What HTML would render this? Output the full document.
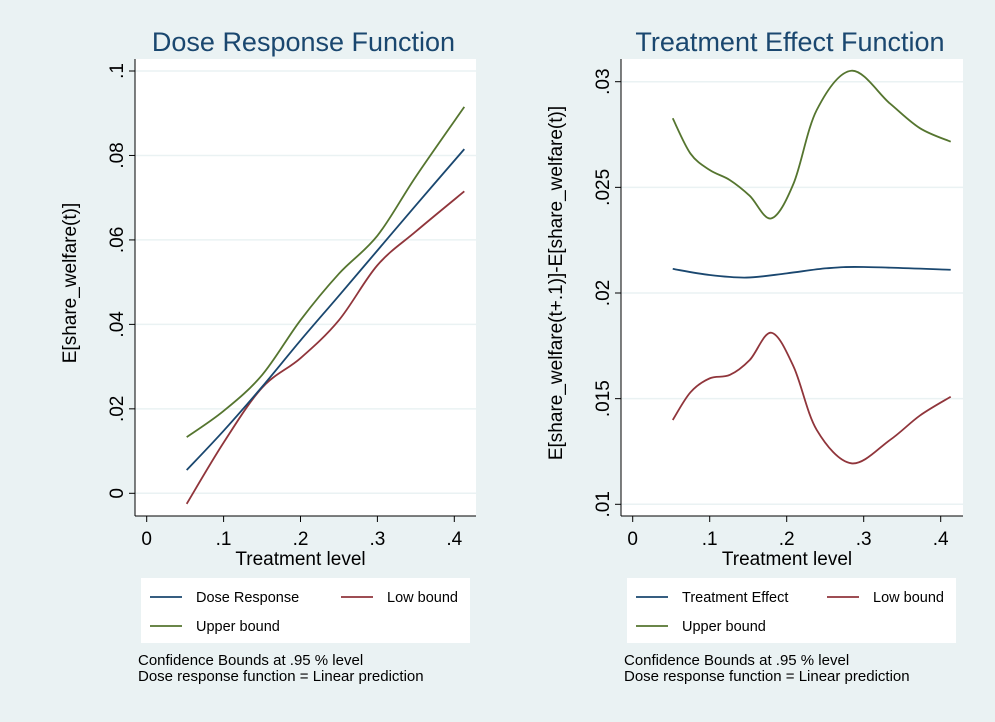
<!DOCTYPE html>
<html><head><meta charset="utf-8">
<style>
body{margin:0;background:#eaf2f3;}
svg{display:block;font-family:"Liberation Sans",Arial,sans-serif;}
</style></head>
<body>
<svg id="chart" width="995" height="722" viewBox="0 0 995 722">
<rect x="0" y="0" width="995" height="722" fill="#eaf2f3"/>
</svg>
<script>
const doseX = [0.052, 0.1, 0.15, 0.2, 0.25, 0.3, 0.35, 0.413];
const doseResponse = [0.0055, 0.0148, 0.0252, 0.0362, 0.0468, 0.0575, 0.0682, 0.0815];
const doseUpper = [0.0133, 0.0195, 0.028, 0.041, 0.052, 0.061, 0.075, 0.0915];
const doseLow = [-0.0025, 0.012, 0.025, 0.032, 0.041, 0.054, 0.062, 0.0715];
const doseYTicks = [0, 0.02, 0.04, 0.06, 0.08, 0.1];
const doseYLabels = ["0", ".02", ".04", ".06", ".08", ".1"];

const teX = [0.052, 0.075, 0.1, 0.126, 0.152, 0.18, 0.209, 0.239, 0.284, 0.334, 0.373, 0.413];
const teUpper = [0.02827, 0.0266, 0.02582, 0.02535, 0.0246, 0.02353, 0.02519, 0.02866, 0.03052, 0.02897, 0.0278, 0.02716];
const teLow = [0.01399, 0.0153, 0.01596, 0.01612, 0.01683, 0.01812, 0.01651, 0.01352, 0.01194, 0.01304, 0.0142, 0.01509];
const teEffectX = [0.052, 0.1, 0.148, 0.2, 0.252, 0.3, 0.413];
const teEffect = [0.02114, 0.02085, 0.02073, 0.02093, 0.02117, 0.02123, 0.0211];
const teYTicks = [0.01, 0.015, 0.02, 0.025, 0.03];
const teYLabels = [".01", ".015", ".02", ".025", ".03"];

const xTicks = [0, 0.1, 0.2, 0.3, 0.4];
const xLabels = ["0", ".1", ".2", ".3", ".4"];

const NS = "http://www.w3.org/2000/svg";
const svg = document.getElementById("chart");
function mk(tag, attrs, parent) {
  const e = document.createElementNS(NS, tag);
  for (const k in attrs) e.setAttribute(k, attrs[k]);
  (parent || svg).appendChild(e);
  return e;
}
function txt(s, attrs, parent) { const t = mk("text", attrs, parent); t.textContent = s; return t; }

function smoothPath(pts) {
  let d = "M" + pts[0][0].toFixed(2) + "," + pts[0][1].toFixed(2);
  for (let i = 0; i < pts.length - 1; i++) {
    const p0 = pts[Math.max(0, i - 1)], p1 = pts[i], p2 = pts[i + 1], p3 = pts[Math.min(pts.length - 1, i + 2)];
    const c1x = p1[0] + (p2[0] - p0[0]) / 6, c1y = p1[1] + (p2[1] - p0[1]) / 6;
    const c2x = p2[0] - (p3[0] - p1[0]) / 6, c2y = p2[1] - (p3[1] - p1[1]) / 6;
    d += " C" + c1x.toFixed(2) + "," + c1y.toFixed(2) + " " + c2x.toFixed(2) + "," + c2y.toFixed(2) + " " + p2[0].toFixed(2) + "," + p2[1].toFixed(2);
  }
  return d;
}

function panel(cfg) {
  const g = mk("g", {});
  
  
  const xs = v => cfg.x0 + (v - 0) / 0.4 * (cfg.x4 - cfg.x0);
  const ys = v => cfg.yA + (v - cfg.vA) / (cfg.vB - cfg.vA) * (cfg.yB - cfg.yA);
  const title = txt(cfg.title, {x: (cfg.L + cfg.R) / 2 - 2, y: 51, "text-anchor": "middle", "font-size": 27, fill: "#1a476f"}, g);
  
  
  const pa = mk("rect", {x: cfg.L, y: 59, width: cfg.R - cfg.L, height: 457, fill: "#ffffff"}, g);
  
  
  cfg.yTicks.forEach((v, i) => {
    const y = ys(v);
    const gl = mk("line", {x1: cfg.L, x2: cfg.R, y1: y, y2: y, stroke: "#eaf2f3", "stroke-width": 1.5}, g);
    
    
    mk("line", {x1: cfg.L - 6, x2: cfg.L, y1: y, y2: y, stroke: "#000", "stroke-width": 1}, g);
    const t = txt(cfg.yLabels[i], {x: 0, y: 0, "text-anchor": "middle", "font-size": 19, fill: "#000", transform: "translate(" + (cfg.L - 12) + "," + y + ") rotate(-90)"}, g);
    
    
  });
  xTicks.forEach((v, i) => {
    const x = xs(v);
    mk("line", {x1: x, x2: x, y1: 516, y2: 522, stroke: "#000", "stroke-width": 1}, g);
    const t = txt(xLabels[i], {x: x, y: 545, "text-anchor": "middle", "font-size": 19, fill: "#000"}, g);
    
    
  });
  mk("line", {x1: cfg.L, x2: cfg.L, y1: 59, y2: 516, stroke: "#000", "stroke-width": 1}, g);
  mk("line", {x1: cfg.L, x2: cfg.R, y1: 516, y2: 516, stroke: "#000", "stroke-width": 1}, g);
  const xt = txt("Treatment level", {x: (cfg.L + cfg.R) / 2 - 5, y: 565, "text-anchor": "middle", "font-size": 19, fill: "#000"}, g);
  
  
  const yt = txt(cfg.yTitle, {x: 0, y: 0, "text-anchor": "middle", "font-size": 19, fill: "#000", transform: "translate(" + cfg.yTitleX + ",283) rotate(-90)"}, g);
  
  
  cfg.series.forEach(s => {
    const pts = s.xv.map((xv, i) => [xs(xv), ys(s.yv[i])]);
    const p = mk("path", {d: smoothPath(pts), fill: "none", stroke: s.color, "stroke-width": 1.8}, g);
    
    
  });
  const lg = mk("g", {}, g);
  
  
  mk("rect", {x: cfg.lx, y: 578, width: 329, height: 65, fill: "#fff"}, lg);
  const ents = [[cfg.legend[0], "#1a476f", cfg.lx + 9, 597], [cfg.legend[1], "#90353b", cfg.lx + 200, 597], [cfg.legend[2], "#55752f", cfg.lx + 9, 626]];
  ents.forEach(e => {
    const eg = mk("g", {}, lg);
    
    
    mk("line", {x1: e[2], x2: e[2] + 32, y1: e[3], y2: e[3], stroke: e[1], "stroke-width": 1.8}, eg);
    txt(e[0], {x: e[2] + 46, y: e[3] + 5, "font-size": 14.5, fill: "#000"}, eg);
  });
  const n1 = txt("Confidence Bounds at .95 % level", {x: cfg.lx - 3, y: 665, "font-size": 15, fill: "#000"}, g);
  
  
  const n2 = txt("Dose response function = Linear prediction", {x: cfg.lx - 3, y: 681, "font-size": 15, fill: "#000"}, g);
  
  
}

panel({name: "dose-response-panel", title: "Dose Response Function", L: 135, R: 476, x0: 146.7, x4: 454.3,
  yA: 493.3, vA: 0, yB: 71, vB: 0.1, yTicks: doseYTicks, yLabels: doseYLabels,
  yTitle: "E[share_welfare(t)]", yTitleX: 76, lx: 141,
  legend: ["Dose Response", "Low bound", "Upper bound"],
  series: [
    {name: "line-upper-bound", xv: doseX, yv: doseUpper, color: "#55752f"},
    {name: "line-low-bound", xv: doseX, yv: doseLow, color: "#90353b"},
    {name: "line-dose-response", xv: doseX, yv: doseResponse, color: "#1a476f"}
  ]});
panel({name: "treatment-effect-panel", title: "Treatment Effect Function", L: 621, R: 963, x0: 632.7, x4: 940.7,
  yA: 81.7, vA: 0.03, yB: 504.3, vB: 0.01, yTicks: teYTicks, yLabels: teYLabels,
  yTitle: "E[share_welfare(t+.1)]-E[share_welfare(t)]", yTitleX: 562, lx: 627,
  legend: ["Treatment Effect", "Low bound", "Upper bound"],
  series: [
    {name: "line-upper-bound", xv: teX, yv: teUpper, color: "#55752f"},
    {name: "line-low-bound", xv: teX, yv: teLow, color: "#90353b"},
    {name: "line-treatment-effect", xv: teEffectX, yv: teEffect, color: "#1a476f"}
  ]});
</script>
</body></html>
